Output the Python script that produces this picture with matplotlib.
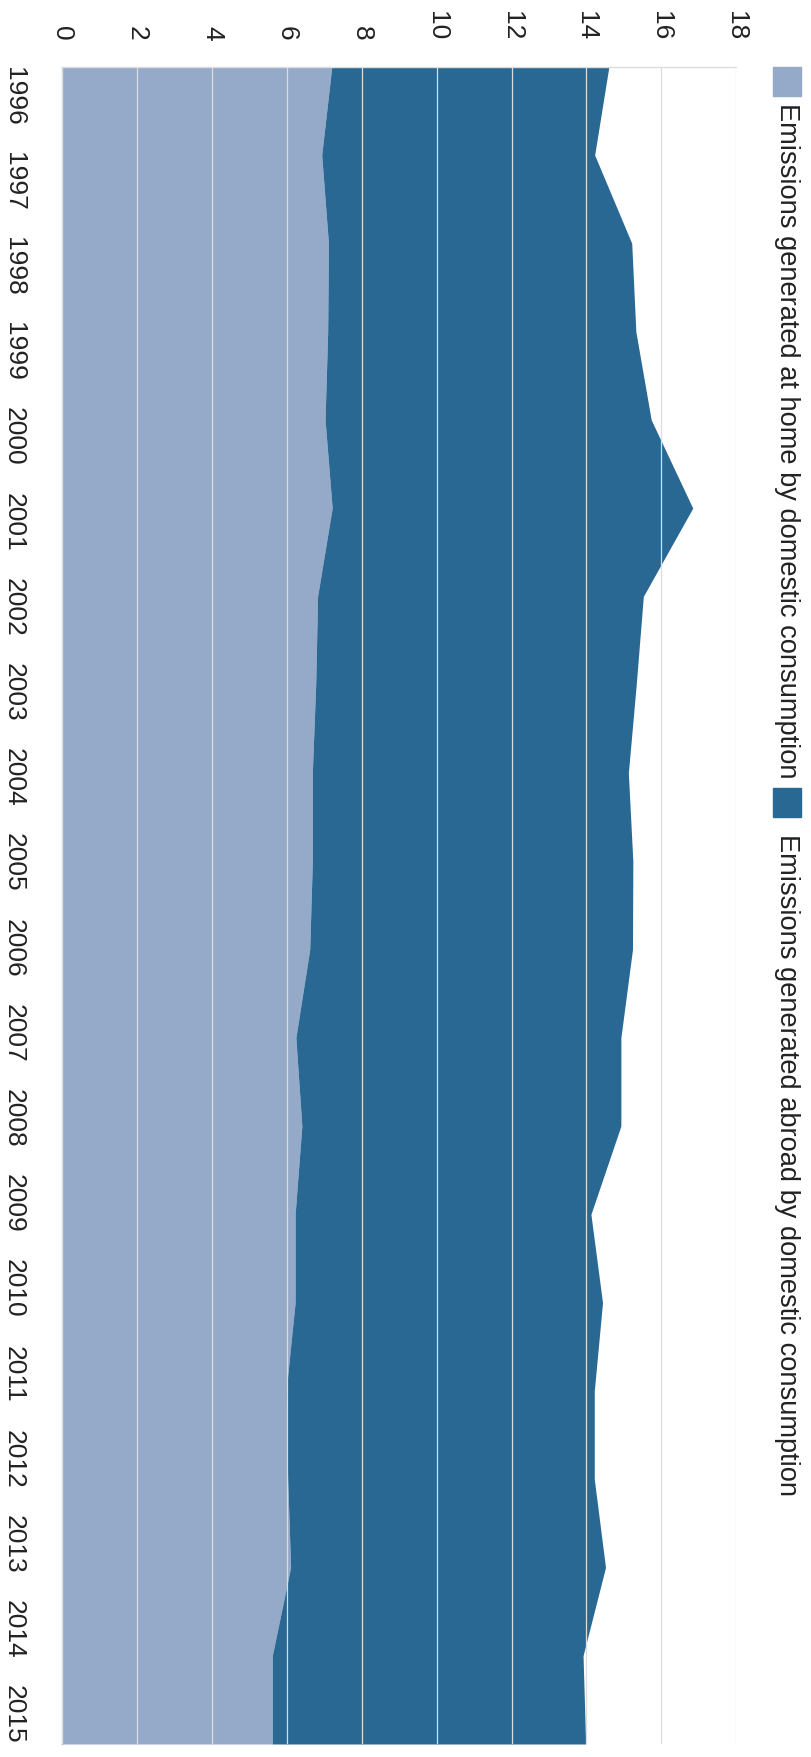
import matplotlib.pyplot as plt
import numpy as np
from matplotlib.patches import Rectangle

# data (Mt CO2e per year, stacked)
years = list(range(1996, 2016))
home = [7.20, 6.93, 7.11, 7.09, 7.02, 7.21, 6.82, 6.77, 6.68, 6.68,
        6.61, 6.24, 6.40, 6.22, 6.22, 5.98, 6.02, 6.10, 5.61, 5.61]
abroad = [7.40, 7.29, 8.10, 8.23, 8.71, 9.63, 8.70, 8.56, 8.44, 8.56,
          8.62, 8.68, 8.52, 7.90, 8.21, 8.23, 8.19, 8.41, 8.30, 8.37]
series_names = ["Emissions generated at home by domestic consumption",
                "Emissions generated abroad by domestic consumption"]
value_ticks = [0, 2, 4, 6, 8, 10, 12, 14, 16, 18]

light = "#95a9c8"
dark = "#296893"
text_col = "#222222"

plt.rcParams['font.family'] = ['Liberation Sans', 'DejaVu Sans']

W, H = 811, 1757
fig = plt.figure(figsize=(W / 100, H / 100), dpi=100)

# plot area in pixels: x 62..736, y 67..1744 (chart is drawn rotated)
ax = fig.add_axes([62.2 / W, 13 / H, 674 / W, 1677.3 / H])

total = np.array(home) + np.array(abroad)
ax.fill_betweenx(years, 0, home, color=light, lw=0, zorder=1)
ax.fill_betweenx(years, home, total, color=dark, lw=0, zorder=1)

ax.set_xlim(0, 18)
ax.set_ylim(2015, 1996)

# value axis on top, labels rotated
ax.xaxis.tick_top()
ax.set_xticks(value_ticks)
ax.tick_params(axis='x', length=0, pad=19, labelsize=19, labelrotation=-90,
               colors=text_col)
for v in value_ticks:
    ax.axvline(v, color='#dddddd', lw=0.9, zorder=3)

# year labels spread evenly between the flush ends
lab_frac = 0.035
label_pos = [y + lab_frac * (9.5 - k) for k, y in enumerate(years)]
ax.set_yticks(label_pos)
ax.set_yticklabels([str(y) for y in years])
ax.tick_params(axis='y', length=0, pad=26, labelsize=19, labelrotation=-90,
               colors=text_col)
for t in ax.get_yticklabels():
    t.set_va('center')

for s in ['right', 'bottom']:
    ax.spines[s].set_visible(False)
ax.spines['top'].set_color('#dddddd')
ax.spines['left'].set_color('#bbbbbb')
ax.spines['top'].set_linewidth(1)
ax.spines['left'].set_linewidth(1)

# legend drawn by hand (rotated)
sw = [(67, light), (788, dark)]
txt_y = [103, 834]
for (y0, col), ty, name in zip(sw, txt_y, series_names):
    fig.patches.append(Rectangle((773 / W, 1 - (y0 + 29) / H), 28 / W, 29 / H,
                                 transform=fig.transFigure, color=col))
    fig.text(787 / W, 1 - ty / H, name, rotation=-90, ha='center', va='top',
             fontsize=19.6, color=text_col)

fig.savefig("out.png", dpi=100)
